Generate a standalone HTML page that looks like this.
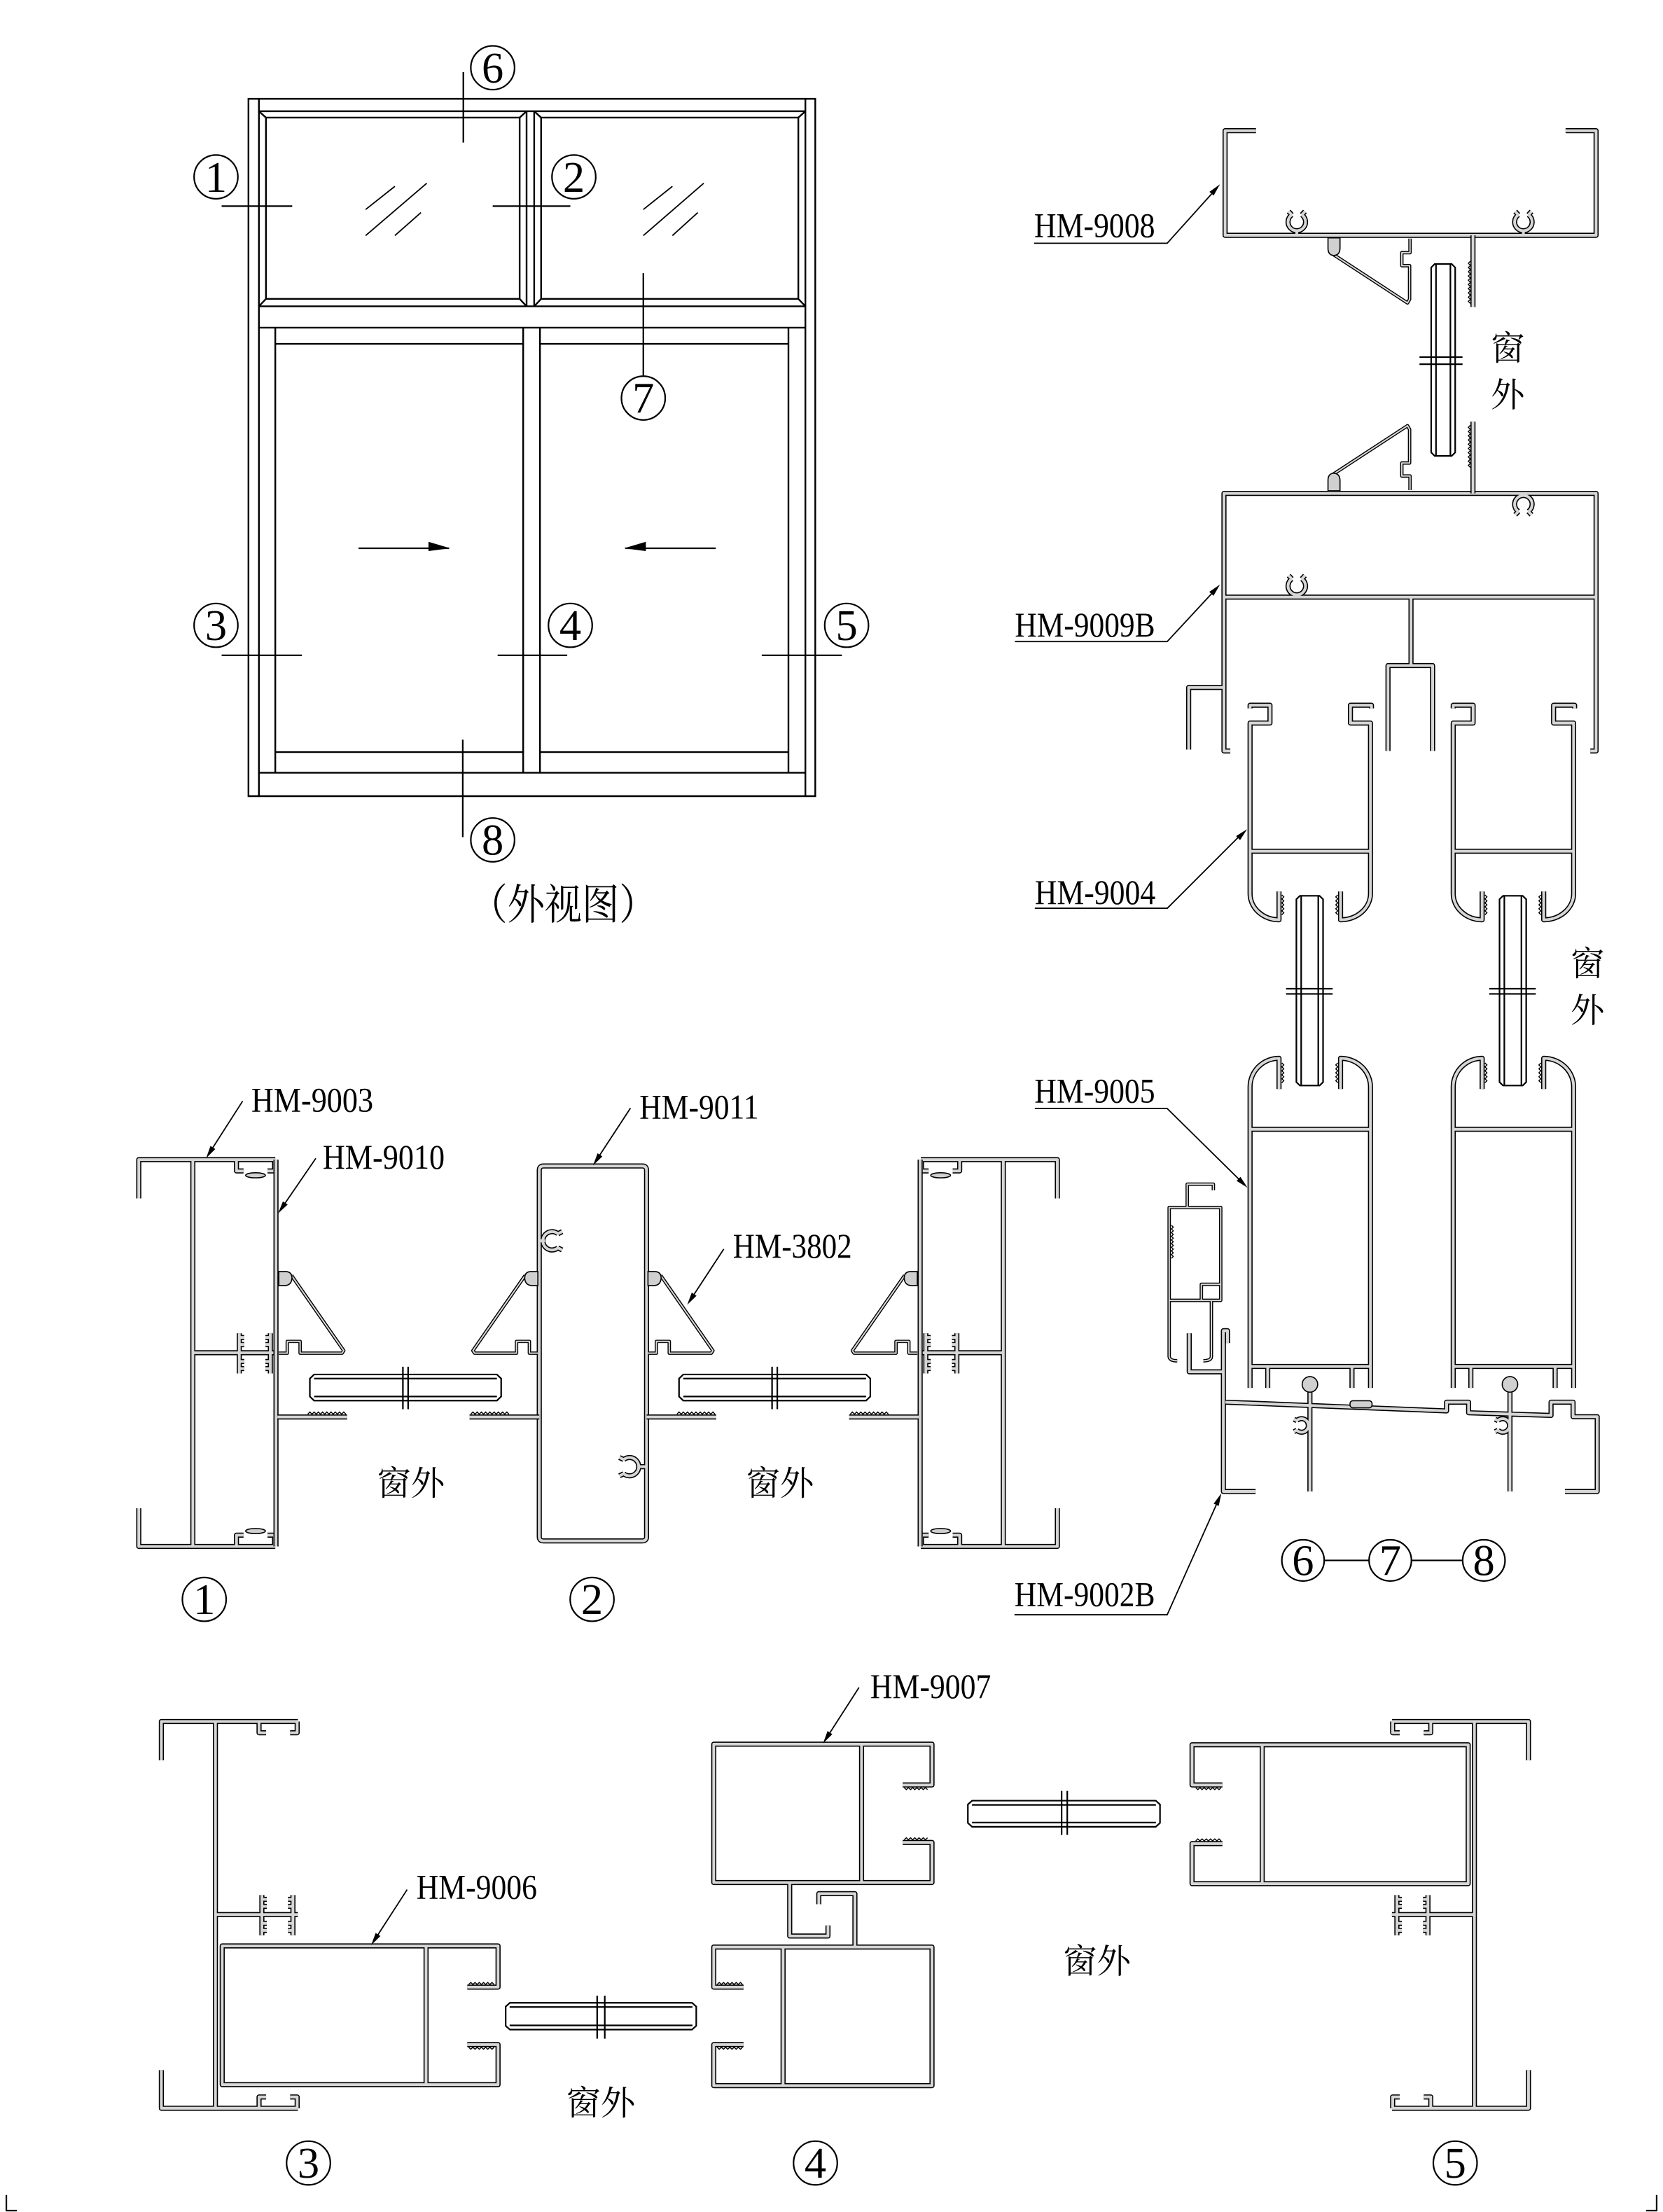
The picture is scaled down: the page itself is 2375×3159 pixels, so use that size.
<!DOCTYPE html>
<html><head><meta charset="utf-8">
<style>
html,body{margin:0;padding:0;background:#fff}
svg{display:block}
.W{fill:none;stroke:#000;stroke-width:3.6;stroke-linejoin:round}
.G{fill:none;stroke:#d6d6d6;stroke-width:2;stroke-linejoin:round}
.T{fill:none;stroke:#000;stroke-width:2.4;stroke-linejoin:round}
.TG{fill:none;stroke:#d6d6d6;stroke-width:1;stroke-linejoin:round}
.L{fill:none;stroke:#000;stroke-width:1.1}
.S{fill:none;stroke:#000;stroke-width:0.7}
.F{fill:#d0d0d0;stroke:#000;stroke-width:0.8}
.A{fill:#000;stroke:none}
.t{font-family:"Liberation Serif","Noto Serif CJK SC",serif;font-size:24.5px;fill:#000}
.c{font-family:"Noto Serif CJK SC","Liberation Serif",serif;font-size:24px;fill:#000}
.n{font-family:"Liberation Serif",serif;font-size:31px;text-anchor:middle;fill:#000}
</style></head>
<body>
<svg xmlns="http://www.w3.org/2000/svg" width="2375" height="3159" viewBox="0 0 1178 1567" preserveAspectRatio="none">
<defs>
<g id="fr">
<path class="W" d="M98.3,849V821.5H195M98.3,1068.5V1095.5H195M136.6,821.5V1095.5M136.6,958.3H195M167.5,821.5V829.5H172.5M194.5,821.5V829.5H189.5M167.5,1095.5V1087.5H172.5M194.5,1095.5V1087.5H189.5M169.5,944.5V973M191.5,944.5V973M169.5,947.5H173M169.5,952.5H173M169.5,964.5H173M169.5,969.5H173M191.5,947.5H188M191.5,952.5H188M191.5,964.5H188M191.5,969.5H188"/>
<path class="G" d="M98.3,849V821.5H195M98.3,1068.5V1095.5H195M136.6,821.5V1095.5M136.6,958.3H195M167.5,821.5V829.5H172.5M194.5,821.5V829.5H189.5M167.5,1095.5V1087.5H172.5M194.5,1095.5V1087.5H189.5M169.5,944.5V973M191.5,944.5V973M169.5,947.5H173M169.5,952.5H173M169.5,964.5H173M169.5,969.5H173M191.5,947.5H188M191.5,952.5H188M191.5,964.5H188M191.5,969.5H188"/>
</g>
<g id="fr1">
<use href="#fr"/>
<path class="W" d="M195.5,821.5V1095.5"/>
<path class="G" d="M195.5,821.5V1095.5"/>
<ellipse class="F" cx="181" cy="832.6" rx="7" ry="1.8"/>
<ellipse class="F" cx="181" cy="1084.6" rx="7" ry="1.8"/>
</g>
<g id="bd">
<path class="T" d="M206.5,903.5L243.5,956.8L242.3,958.6H212.6V950.3H203.5V958.6H197.5"/>
<path class="TG" d="M206.5,903.5L243.5,956.8L242.3,958.6H212.6V950.3H203.5V958.6H197.5"/>
<path class="F" d="M197.5,900.8H202.5Q207,901 206.8,905.8Q206.3,910.5 201.8,910.7H197.5Z"/>
<path class="W" d="M196.5,1003.8H245.9"/>
<path class="G" d="M196.5,1003.8H245.9"/>
<path class="S" d="M218,1001.8l1.5,-1.5 1.5,1.5 1.5,-1.5 1.5,1.5 1.5,-1.5 1.5,1.5 1.5,-1.5 1.5,1.5 1.5,-1.5 1.5,1.5 1.5,-1.5 1.5,1.5 1.5,-1.5 1.5,1.5 1.5,-1.5 1.5,1.5 1.5,-1.5 1.5,1.5"/>
</g>
<g id="gl">
<path class="L" d="M222.5,973.7H352L355,976.6V989.3L352,992.2H222.5L219.5,989.3V976.6ZM222.5,976.6H352M222.5,989.3H352M285.4,968.2V998.3M289.1,968.2V998.3"/>
</g>
<g id="tb">
<path class="T" d="M942.5,179L997,214.6L998.5,212V188.2H993V179H998.8V169"/>
<path class="TG" d="M942.5,179L997,214.6L998.5,212V188.2H993V179H998.8V169"/>
<path class="F" d="M940.7,168.5H949.2V176Q949,181 944.5,181Q940.7,180.5 940.7,176Z"/>
<path class="W" d="M1043.4,166.7V217.5"/>
<path class="G" d="M1043.4,166.7V217.5"/>
<path class="S" d="M1041.6,185l-1.5,1.5 1.5,1.5 -1.5,1.5 1.5,1.5 -1.5,1.5 1.5,1.5 -1.5,1.5 1.5,1.5 -1.5,1.5 1.5,1.5 -1.5,1.5 1.5,1.5 -1.5,1.5 1.5,1.5 -1.5,1.5 1.5,1.5 -1.5,1.5 1.5,1.5 -1.5,1.5 1.5,1.5"/>
</g>
<g id="sp">
<path class="W" d="M885.5,501.8V499.6H899.6V512.2H885.5V633A20.5,18.6 0 0 0 906,651.6V631.5M971.5,501.8V499.6H956.6V512.2H970.8V633A21.2,18.6 0 0 1 949.6,651.6V631.5M885.5,603H970.8M906,771.5V749.7A20.5,20.3 0 0 0 885.5,770V983.2M949.6,771.5V749.7A21.2,20.3 0 0 1 970.8,770V983.2M885.5,800H970.8M885.5,968H970.8M898,968V983.2M957.7,968V983.2"/>
<path class="G" d="M885.5,501.8V499.6H899.6V512.2H885.5V633A20.5,18.6 0 0 0 906,651.6V631.5M971.5,501.8V499.6H956.6V512.2H970.8V633A21.2,18.6 0 0 1 949.6,651.6V631.5M885.5,603H970.8M906,771.5V749.7A20.5,20.3 0 0 0 885.5,770V983.2M949.6,771.5V749.7A21.2,20.3 0 0 1 970.8,770V983.2M885.5,800H970.8M885.5,968H970.8M898,968V983.2M957.7,968V983.2"/>
<path class="L" d="M920.8,634.6H934.7L937.2,637V766.6L934.7,769H920.8L918.3,766.6V637ZM921.7,634.6V769M933.8,634.6V769M911,700.4H944M911,704.1H944"/>
<path class="S" d="M908,634l1.4,1.4 -1.4,1.4 1.4,1.4 -1.4,1.4 1.4,1.4 -1.4,1.4 1.4,1.4 -1.4,1.4 1.4,1.4 -1.4,1.4M947.6,634l-1.4,1.4 1.4,1.4 -1.4,1.4 1.4,1.4 -1.4,1.4 1.4,1.4 -1.4,1.4 1.4,1.4 -1.4,1.4 1.4,1.4M908,753l1.4,1.4 -1.4,1.4 1.4,1.4 -1.4,1.4 1.4,1.4 -1.4,1.4 1.4,1.4 -1.4,1.4 1.4,1.4 -1.4,1.4M947.6,753l-1.4,1.4 1.4,1.4 -1.4,1.4 1.4,1.4 -1.4,1.4 1.4,1.4 -1.4,1.4 1.4,1.4 -1.4,1.4 1.4,1.4"/>
</g>
</defs>

<!-- ================= Window elevation ================= -->
<g class="L" style="stroke-width:1.2">
<path d="M176,70H577.5V564H176Z"/>
<path d="M183.4,70V564M570.5,70V564"/>
<path d="M183.4,78.8H570.5M183.4,217H570.5M373,78.8V217M378.4,78.8V217"/>
<path d="M188.4,83.3H368.1V211.7H188.4ZM183.4,78.8L188.4,83.3M373,78.8L368.1,83.3M373,217L368.1,211.7M183.4,217L188.4,211.7"/>
<path d="M383.3,83.3H565.5V211.7H383.3ZM378.4,78.8L383.3,83.3M570.5,78.8L565.5,83.3M570.5,217L565.5,211.7M378.4,217L383.3,211.7"/>
<path d="M183.4,232.1H570.5M195,232.1V547.4M370.6,232.1V547.4M382.5,232.1V547.4M558.5,232.1V547.4M195,243.6H370.6M382.5,243.6H558.5M195,532.8H370.6M382.5,532.8H558.5M183.4,547.4H570.5"/>
</g>
<path class="L" style="stroke-width:0.9" d="M259,148.4L279.7,132M259,166.9L302.3,129.8M279.7,166.9L298.2,150.6M455.7,148.4L476.3,132M455.7,166.9L498.5,129.8M476.3,166.9L494.3,150.6"/>
<path class="L" d="M157,146H207M349,146H404M328.2,51V101M455.7,193.5V266M157,464.2H213.9M352.5,464.2H401.8M539.6,464.2H596.4M327.8,524V593M254,388.4H318M443,388.4H507"/>
<path class="A" d="M303.5,383.8L319,388.4L303.5,390.4Z"/>
<path class="A" d="M442,388.4L457.5,383.8L457.5,390.4Z"/>
<g class="L">
<ellipse cx="153" cy="125.3" rx="15.5" ry="15.5"/>
<ellipse cx="406.5" cy="125.3" rx="15.5" ry="15.5"/>
<ellipse cx="349" cy="48" rx="15.5" ry="15.5"/>
<ellipse cx="455.7" cy="282" rx="15.5" ry="15.5"/>
<ellipse cx="153" cy="443" rx="15.5" ry="15.5"/>
<ellipse cx="404" cy="443" rx="15.5" ry="15.5"/>
<ellipse cx="599.7" cy="443" rx="15.5" ry="15.5"/>
<ellipse cx="349" cy="595" rx="15.5" ry="15.5"/>
</g>
<text class="n" x="153" y="135.8">1</text>
<text class="n" x="406.5" y="135.8">2</text>
<text class="n" x="349" y="58.5">6</text>
<text class="n" x="455.7" y="292.5">7</text>
<text class="n" x="153" y="453.5">3</text>
<text class="n" x="404" y="453.5">4</text>
<text class="n" x="599.7" y="453.5">5</text>
<text class="n" x="349" y="605.5">8</text>
<text class="c" style="font-size:30px" x="333" y="651" textLength="132" lengthAdjust="spacingAndGlyphs">（外视图）</text>

<!-- ================= Right column: 6-7-8 ================= -->
<path class="W" d="M889.7,92.6H867.8V166.7H1130.6V92.6H1109M918.6,163V166.7M915.04,152.2A6.2,6.2 0 1 0 922.16,152.2M915.04,152.2l-2.2,-2.4M922.16,152.2l2.2,-2.4M1079.1,163V166.7M1075.54,152.2A6.2,6.2 0 1 0 1082.66,152.2M1075.54,152.2l-2.2,-2.4M1082.66,152.2l2.2,-2.4M871.5,532H867V349.5H1130.6V532H1126.5M867,487H842V531M867,423H1130.6M999.5,423V471.5M983.2,532V471.5H1014.8V532M1079.1,349.5V351.5M1075.54,362.3A6.2,6.2 0 1 1 1082.66,362.3M1075.54,362.3l-2.2,2.4M1082.66,362.3l2.2,2.4M918.6,421V423M915.04,410.1A6.2,6.2 0 1 0 922.16,410.1M915.04,410.1l-2.2,-2.4M922.16,410.1l2.2,-2.4"/>
<path class="G" d="M889.7,92.6H867.8V166.7H1130.6V92.6H1109M918.6,163V166.7M915.04,152.2A6.2,6.2 0 1 0 922.16,152.2M915.04,152.2l-2.2,-2.4M922.16,152.2l2.2,-2.4M1079.1,163V166.7M1075.54,152.2A6.2,6.2 0 1 0 1082.66,152.2M1075.54,152.2l-2.2,-2.4M1082.66,152.2l2.2,-2.4M871.5,532H867V349.5H1130.6V532H1126.5M867,487H842V531M867,423H1130.6M999.5,423V471.5M983.2,532V471.5H1014.8V532M1079.1,349.5V351.5M1075.54,362.3A6.2,6.2 0 1 1 1082.66,362.3M1075.54,362.3l-2.2,2.4M1082.66,362.3l2.2,2.4M918.6,421V423M915.04,410.1A6.2,6.2 0 1 0 922.16,410.1M915.04,410.1l-2.2,-2.4M922.16,410.1l2.2,-2.4"/>
<use href="#tb"/>
<use href="#tb" transform="matrix(1,0,0,-1,0,516.2)"/>
<path class="L" d="M1016.3,187H1028.3L1030.8,189.5V320.5L1028.3,323H1016.3L1013.8,320.5V189.5ZM1017.2,187V323M1027.4,187V323M1005.5,253H1036M1005.5,258H1036"/>
<text class="c" x="1056" y="255">窗</text>
<text class="c" x="1056" y="288">外</text>

<use href="#sp"/>
<use href="#sp" transform="translate(143.9,0)"/>
<text class="c" x="1112.5" y="691">窗</text>
<text class="c" x="1112.5" y="724">外</text>

<!-- small fixed profile -->
<path class="T" d="M841,855.4V838.9H859.5V843.2M828.2,855.4H864.7V921.2H828.2ZM864.7,909.8H851V921.2M828.2,921.2V961Q828.5,964 833.9,964M858.1,921.2V961Q858,964 852.4,964"/>
<path class="TG" d="M841,855.4V838.9H859.5V843.2M828.2,855.4H864.7V921.2H828.2ZM864.7,909.8H851V921.2M828.2,921.2V961Q828.5,964 833.9,964M858.1,921.2V961Q858,964 852.4,964"/>
<path class="S" d="M829.8,868l1.3,1.3 -1.3,1.3 1.3,1.3 -1.3,1.3 1.3,1.3 -1.3,1.3 1.3,1.3 -1.3,1.3 1.3,1.3 -1.3,1.3 1.3,1.3 -1.3,1.3 1.3,1.3 -1.3,1.3 1.3,1.3 -1.3,1.3 1.3,1.3 -1.3,1.3"/>

<!-- track HM-9002B -->
<path class="W" d="M869.5,951.5V942.7H866.6V1056.6H889.4M866.6,971.8H842.4V944.5M868,993.3L1024.7,999.5V993.3H1040.3V1000.8L1098.7,1002.7V993.3H1114.3V1003.6H1131.4V1056.6H1108.6M927.9,985V1056.6M1069.6,985V1056.6M918.6,1006.4A4.8,4.8 0 1 1 918.6,1013.2M918.6,1006.4l-2,-1M918.6,1013.2l-2,1M1061.1,1006.4A4.8,4.8 0 1 1 1061.1,1013.2M1061.1,1006.4l-2,-1M1061.1,1013.2l-2,1"/>
<path class="G" d="M869.5,951.5V942.7H866.6V1056.6H889.4M866.6,971.8H842.4V944.5M868,993.3L1024.7,999.5V993.3H1040.3V1000.8L1098.7,1002.7V993.3H1114.3V1003.6H1131.4V1056.6H1108.6M927.9,985V1056.6M1069.6,985V1056.6M918.6,1006.4A4.8,4.8 0 1 1 918.6,1013.2M918.6,1006.4l-2,-1M918.6,1013.2l-2,1M1061.1,1006.4A4.8,4.8 0 1 1 1061.1,1013.2M1061.1,1006.4l-2,-1M1061.1,1013.2l-2,1"/>
<rect class="F" x="956.3" y="992.3" width="15.6" height="5" rx="2"/>
<circle class="F" cx="927.9" cy="980.7" r="5.5"/>
<circle class="F" cx="1069.6" cy="980.7" r="5.5"/>

<g class="L">
<ellipse cx="923" cy="1105.4" rx="15" ry="14.6"/>
<ellipse cx="984.8" cy="1105.4" rx="15" ry="14.6"/>
<ellipse cx="1051.1" cy="1105.4" rx="15" ry="14.6"/>
<path d="M938,1105.4H969.8M999.8,1105.4H1036.1"/>
</g>
<text class="n" x="923" y="1115.9">6</text>
<text class="n" x="984.8" y="1115.9">7</text>
<text class="n" x="1051.1" y="1115.9">8</text>

<!-- right column labels -->
<text class="t" x="732.5" y="168" textLength="85.7" lengthAdjust="spacingAndGlyphs">HM-9008</text>
<text class="t" x="718.9" y="451" textLength="99.3" lengthAdjust="spacingAndGlyphs">HM-9009B</text>
<text class="t" x="733" y="640.5" textLength="85.5" lengthAdjust="spacingAndGlyphs">HM-9004</text>
<text class="t" x="732.8" y="781" textLength="85.4" lengthAdjust="spacingAndGlyphs">HM-9005</text>
<text class="t" x="718.6" y="1137.6" textLength="99.6" lengthAdjust="spacingAndGlyphs">HM-9002B</text>
<path class="L" style="stroke-width:0.9" d="M732.5,172.3H826.8L861,134.3M718.9,454.5H826.8L861,417.6M733,643.4H826.9L880,590.3M733,785.3H826.8L880.8,838.5M718.6,1143.9H826.8L863.6,1061.5"/>
<path class="A" d="M864.2,130.5L859.7,138.5L856.7,135.9Z"/>
<path class="A" d="M864.2,414.1L859.6,422.1L856.6,419.3Z"/>
<path class="A" d="M883.4,587.4L878.4,595.1L875.6,592.3Z"/>
<path class="A" d="M883.7,841.4L875.9,836.5L878.7,833.7Z"/>
<path class="A" d="M865.2,1057.8L863.3,1066.8L859.7,1065.2Z"/>

<!-- ================= Middle row: sections 1 & 2 ================= -->
<use href="#fr1"/>
<use href="#fr1" transform="matrix(-1,0,0,1,847.3,0)"/>
<path class="W" d="M385,826H455Q458,826 458,829V1088.6Q458,1091.6 455,1091.6H385Q382,1091.6 382,1088.6V829Q382,826 385,826ZM382,879H386M395.2,874A6.5,6.5 0 1 0 395.2,884M395.2,874l3,-1.5M395.2,884l3,1.5M458,1039H452M441.8,1034A6.5,6.5 0 1 1 441.8,1044M441.8,1034l-3,-1.5M441.8,1044l-3,1.5"/>
<path class="G" d="M385,826H455Q458,826 458,829V1088.6Q458,1091.6 455,1091.6H385Q382,1091.6 382,1088.6V829Q382,826 385,826ZM382,879H386M395.2,874A6.5,6.5 0 1 0 395.2,884M395.2,874l3,-1.5M395.2,884l3,1.5M458,1039H452M441.8,1034A6.5,6.5 0 1 1 441.8,1044M441.8,1034l-3,-1.5M441.8,1044l-3,1.5"/>
<use href="#bd"/>
<use href="#bd" transform="matrix(-1,0,0,1,578.5,0)"/>
<use href="#bd" transform="translate(261.5,0)"/>
<use href="#bd" transform="matrix(-1,0,0,1,847.3,0)"/>
<use href="#gl"/>
<use href="#gl" transform="translate(261.5,0)"/>
<text class="c" x="267" y="1059" textLength="48" lengthAdjust="spacingAndGlyphs">窗外</text>
<text class="c" x="528.5" y="1059" textLength="48" lengthAdjust="spacingAndGlyphs">窗外</text>

<text class="t" x="178" y="787.5" textLength="86.4" lengthAdjust="spacingAndGlyphs">HM-9003</text>
<text class="t" x="228.6" y="828" textLength="86.4" lengthAdjust="spacingAndGlyphs">HM-9010</text>
<text class="t" x="453" y="792.5" textLength="84.4" lengthAdjust="spacingAndGlyphs">HM-9011</text>
<text class="t" x="519.2" y="891" textLength="84.3" lengthAdjust="spacingAndGlyphs">HM-3802</text>
<path class="L" style="stroke-width:0.9" d="M171.9,780L148,817.3M223.7,820.6L199,856.6M446.6,785L422,822.6M512.7,884.8L488.8,921.3"/>
<path class="A" d="M146,820.5L149.1,811.8L152.5,814Z"/>
<path class="A" d="M197,859.6L200.4,851.1L203.8,853.3Z"/>
<path class="A" d="M420.1,825.6L423.3,817L426.7,819.2Z"/>
<path class="A" d="M486.8,924.3L490,915.7L493.4,917.9Z"/>

<g class="L">
<ellipse cx="144.7" cy="1133" rx="15.5" ry="15.5"/>
<ellipse cx="419.4" cy="1133" rx="15.5" ry="15.5"/>
</g>
<text class="n" x="144.7" y="1143.5">1</text>
<text class="n" x="419.4" y="1143.5">2</text>

<!-- ================= Bottom row: sections 3,4,5 ================= -->
<use href="#fr" transform="translate(16,398)"/>
<use href="#fr" transform="matrix(-1,0,0,1,1181,398)"/>
<path class="W" d="M331,1407.7H352.8V1378.5H157.4V1476.8H352.8V1448.4H331M301.8,1378.5V1476.8M639.4,1264.5H660.2V1235.6H505.6V1333.6H660.2V1305.2H639.4M610.3,1235.6V1333.6M526.7,1407.7H505.6V1379.3H660.2V1477.5H505.6V1448.4H526.7M554.7,1379.3V1477.5M559.4,1333.6V1371.5H586.5V1364M605.6,1379.3V1341.5H580V1349M865.9,1264.5H844.4V1236H1040V1334.4H844.4V1306H865.9M894.1,1236V1334.4"/>
<path class="G" d="M331,1407.7H352.8V1378.5H157.4V1476.8H352.8V1448.4H331M301.8,1378.5V1476.8M639.4,1264.5H660.2V1235.6H505.6V1333.6H660.2V1305.2H639.4M610.3,1235.6V1333.6M526.7,1407.7H505.6V1379.3H660.2V1477.5H505.6V1448.4H526.7M554.7,1379.3V1477.5M559.4,1333.6V1371.5H586.5V1364M605.6,1379.3V1341.5H580V1349M865.9,1264.5H844.4V1236H1040V1334.4H844.4V1306H865.9M894.1,1236V1334.4"/>
<path class="S" d="M332,1405.8l1.5,-1.4 1.5,1.4 1.5,-1.4 1.5,1.4 1.5,-1.4 1.5,1.4 1.5,-1.4 1.5,1.4 1.5,-1.4 1.5,1.4 1.5,-1.4 1.5,1.4M332,1450.3l1.5,1.4 1.5,-1.4 1.5,1.4 1.5,-1.4 1.5,1.4 1.5,-1.4 1.5,1.4 1.5,-1.4 1.5,1.4 1.5,-1.4 1.5,1.4 1.5,-1.4M640.5,1266.4l1.5,1.4 1.5,-1.4 1.5,1.4 1.5,-1.4 1.5,1.4 1.5,-1.4 1.5,1.4 1.5,-1.4 1.5,1.4 1.5,-1.4 1.5,1.4M640.5,1303.3l1.5,-1.4 1.5,1.4 1.5,-1.4 1.5,1.4 1.5,-1.4 1.5,1.4 1.5,-1.4 1.5,1.4 1.5,-1.4 1.5,1.4 1.5,-1.4M508,1405.8l1.5,-1.4 1.5,1.4 1.5,-1.4 1.5,1.4 1.5,-1.4 1.5,1.4 1.5,-1.4 1.5,1.4 1.5,-1.4 1.5,1.4 1.5,-1.4 1.5,1.4M508,1450.3l1.5,1.4 1.5,-1.4 1.5,1.4 1.5,-1.4 1.5,1.4 1.5,-1.4 1.5,1.4 1.5,-1.4 1.5,1.4 1.5,-1.4 1.5,1.4 1.5,-1.4M847,1266.4l1.5,1.4 1.5,-1.4 1.5,1.4 1.5,-1.4 1.5,1.4 1.5,-1.4 1.5,1.4 1.5,-1.4 1.5,1.4 1.5,-1.4 1.5,1.4 1.5,-1.4M847,1304.1l1.5,-1.4 1.5,1.4 1.5,-1.4 1.5,1.4 1.5,-1.4 1.5,1.4 1.5,-1.4 1.5,1.4 1.5,-1.4 1.5,1.4 1.5,-1.4 1.5,1.4"/>
<path class="L" d="M361.2,1418.8H490.2L493.2,1421.5V1435.1L490.2,1437.8H361.2L358.2,1435.1V1421.5ZM361,1421.8H490.5M361,1434.8H490.5M423,1413.8V1444.2M428.4,1413.8V1444.2"/>
<path class="L" d="M688.6,1275.6H818.7L821.7,1278.3V1291.4L818.7,1294.1H688.6L685.6,1291.4V1278.3ZM688.5,1278.6H818.8M688.5,1291.1H818.8M752,1268.7V1299.8M756,1268.7V1299.8"/>
<text class="c" x="401" y="1498" textLength="49" lengthAdjust="spacingAndGlyphs">窗外</text>
<text class="c" x="753" y="1397.5" textLength="48" lengthAdjust="spacingAndGlyphs">窗外</text>

<text class="t" x="295" y="1345" textLength="85.4" lengthAdjust="spacingAndGlyphs">HM-9006</text>
<text class="t" x="616.5" y="1203" textLength="85.5" lengthAdjust="spacingAndGlyphs">HM-9007</text>
<path class="L" style="stroke-width:0.9" d="M288.4,1338.6L264.6,1375.4M608.5,1195.4L584.7,1232.4"/>
<path class="A" d="M262.9,1378L266.1,1369.3L269.5,1371.5Z"/>
<path class="A" d="M583,1235L586.2,1226.3L589.6,1228.5Z"/>

<g class="L">
<ellipse cx="218.5" cy="1532.3" rx="15.5" ry="15.5"/>
<ellipse cx="577.6" cy="1532.3" rx="15.5" ry="15.5"/>
<ellipse cx="1030.8" cy="1532.3" rx="15.5" ry="15.5"/>
</g>
<text class="n" x="218.5" y="1542.8">3</text>
<text class="n" x="577.6" y="1542.8">4</text>
<text class="n" x="1030.8" y="1542.8">5</text>

<!-- corner marks -->
<path class="L" d="M4.5,1555V1566H12M1173.5,1555V1566H1166"/>
</svg>
</body></html>
